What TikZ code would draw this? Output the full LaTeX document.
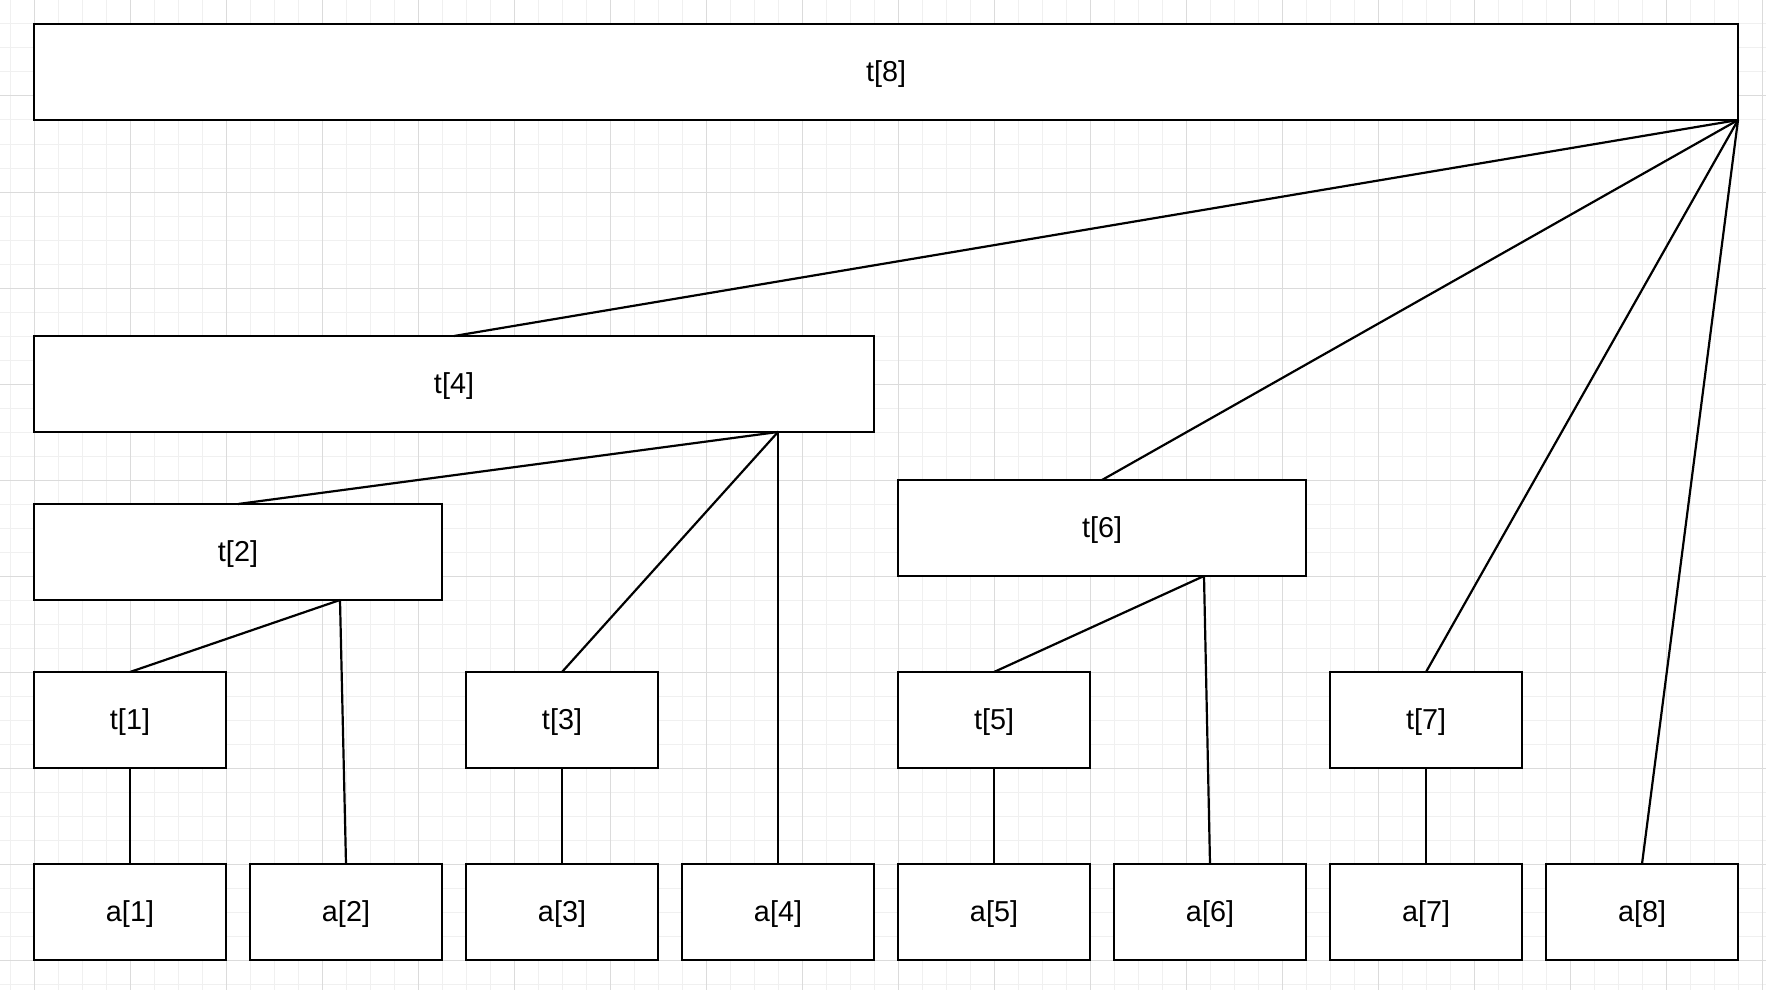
\documentclass[tikz,border=0pt]{standalone}
\usepackage{fontspec}
\setmainfont{Liberation Sans}
\begin{document}
\begin{tikzpicture}[x=0.5pt,y=-0.5pt,
  box/.style={draw=black,fill=white,line width=1.1pt,inner sep=0pt,outer sep=0pt,
    minimum height=48pt,text height=11pt,text depth=1.3pt,font=\fontsize{14.4pt}{17pt}\selectfont},
  wide1/.style={box,minimum width=852pt},
  wide2/.style={box,minimum width=420pt},
  mid/.style={box,minimum width=204pt},
  small/.style={box,minimum width=96pt},
  link/.style={draw=black,line width=1.1pt},
  gminor/.style={draw=black!6,line width=0.5pt},
  gmajor/.style={draw=black!14,line width=0.5pt}]
\useasboundingbox (0,0) rectangle (1766,990);
\fill[white] (0,0) rectangle (1766,990);
% grid
\foreach \x in {10,34,...,1762} \draw[gminor] (\x,0) -- (\x,990);
\foreach \y in {0,24,...,984} \draw[gminor] (0,\y) -- (1766,\y);
\foreach \x in {34,130,...,1762} \draw[gmajor] (\x,0) -- (\x,990);
\foreach \y in {0,96,...,960} \draw[gmajor] (0,\y) -- (1766,\y);
% nodes
\node[wide1] (t8) at (886,72) {t[8]};
\node[wide2] (t4) at (454,384) {t[4]};
\node[mid] (t2) at (238,552) {t[2]};
\node[mid] (t6) at (1102,528) {t[6]};
\node[small] (t1) at (130,720) {t[1]};
\node[small] (t3) at (562,720) {t[3]};
\node[small] (t5) at (994,720) {t[5]};
\node[small] (t7) at (1426,720) {t[7]};
\foreach \i in {1,...,8}{
  \pgfmathtruncatemacro{\xx}{130+216*(\i-1)}
  \node[small] (a\i) at (\xx,912) {a[\i]};
}
% exit points
\coordinate (e8) at (t8.south east);
\coordinate (e4) at ([xshift=-48pt]t4.south east);
\coordinate (e2) at ([xshift=-51pt]t2.south east);
\coordinate (e6) at ([xshift=-51pt]t6.south east);
% connectors
\draw[link] (e8) -- (t4.north);
\draw[link] (e8) -- (t6.north);
\draw[link] (e8) -- (t7.north);
\draw[link] (e8) -- (a8.north);
\draw[link] (e4) -- (t2.north);
\draw[link] (e4) -- (t3.north);
\draw[link] (e4) -- (a4.north);
\draw[link] (e2) -- (t1.north);
\draw[link] (e2) -- (a2.north);
\draw[link] (e6) -- (t5.north);
\draw[link] (e6) -- (a6.north);
\draw[link] (t1.south) -- (a1.north);
\draw[link] (t3.south) -- (a3.north);
\draw[link] (t5.south) -- (a5.north);
\draw[link] (t7.south) -- (a7.north);
\end{tikzpicture}
\end{document}
